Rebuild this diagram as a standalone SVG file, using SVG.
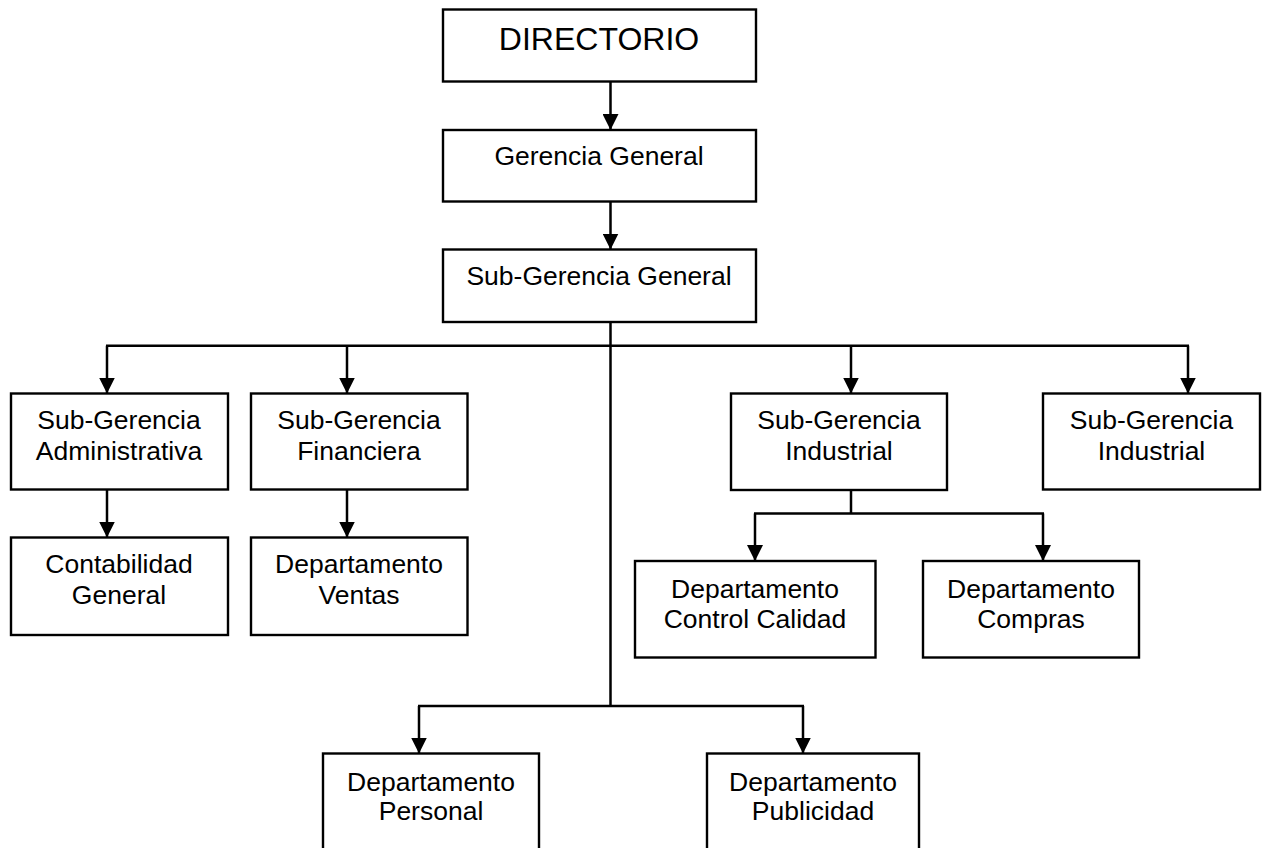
<svg xmlns="http://www.w3.org/2000/svg" width="1269" height="848" viewBox="0 0 1269 848">
<defs>
<marker id="arr" markerUnits="userSpaceOnUse" markerWidth="16" markerHeight="16" viewBox="0 0 16 16" refX="16" refY="8" orient="auto">
<path d="M0,0 L16,8 L0,16 z" fill="#000"/>
</marker>
<style>
.box{fill:#fff;stroke:#000;stroke-width:2.4}
.ln{fill:none;stroke:#000;stroke-width:2.5}
.ar{fill:none;stroke:#000;stroke-width:2.5;marker-end:url(#arr)}
text{font-family:"Liberation Sans",Arial,sans-serif;font-size:26.5px;fill:#000;text-anchor:middle}
.big{font-size:32px}
</style>
</defs>
<rect width="1269" height="848" fill="#fff"/>
<g id="connectors">
<line class="ar" x1="610.5" y1="82" x2="610.5" y2="130"/>
<line class="ar" x1="610.5" y1="201.5" x2="610.5" y2="249.5"/>
<line class="ln" x1="610.5" y1="322" x2="610.5" y2="706"/>
<line class="ln" x1="106" y1="345.7" x2="1189" y2="345.7"/>
<line class="ar" x1="107" y1="345.7" x2="107" y2="393.5"/>
<line class="ar" x1="347" y1="345.7" x2="347" y2="393.5"/>
<line class="ar" x1="851" y1="345.7" x2="851" y2="393.5"/>
<line class="ar" x1="1188" y1="345.7" x2="1188" y2="393.5"/>
<line class="ar" x1="107" y1="489.5" x2="107" y2="537.5"/>
<line class="ar" x1="347" y1="489.5" x2="347" y2="537.5"/>
<line class="ln" x1="851" y1="490" x2="851" y2="513.5"/>
<line class="ln" x1="754" y1="513.5" x2="1044" y2="513.5"/>
<line class="ar" x1="755" y1="513.5" x2="755" y2="561"/>
<line class="ar" x1="1043" y1="513.5" x2="1043" y2="561"/>
<line class="ln" x1="418" y1="706" x2="804" y2="706"/>
<line class="ar" x1="419" y1="706" x2="419" y2="753.5"/>
<line class="ar" x1="803" y1="706" x2="803" y2="753.5"/>
</g>
<g id="directorio">
<rect class="box" x="443" y="9.5" width="313" height="72"/>
<text class="big" x="599" y="50">DIRECTORIO</text>
</g>
<g id="gerencia-general">
<rect class="box" x="443" y="130" width="313" height="71.5"/>
<text x="599" y="165">Gerencia General</text>
</g>
<g id="sub-gerencia-general">
<rect class="box" x="443" y="249.5" width="313" height="72.5"/>
<text x="599" y="285">Sub-Gerencia General</text>
</g>
<g id="sub-gerencia-administrativa">
<rect class="box" x="11" y="393.5" width="217" height="96"/>
<text x="119" y="429">Sub-Gerencia</text>
<text x="119" y="459.5">Administrativa</text>
</g>
<g id="sub-gerencia-financiera">
<rect class="box" x="251" y="393.5" width="216.5" height="96"/>
<text x="359" y="429">Sub-Gerencia</text>
<text x="359" y="459.5">Financiera</text>
</g>
<g id="sub-gerencia-industrial-1">
<rect class="box" x="731" y="393.5" width="216" height="96.5"/>
<text x="839" y="429">Sub-Gerencia</text>
<text x="839" y="459.5">Industrial</text>
</g>
<g id="sub-gerencia-industrial-2">
<rect class="box" x="1043" y="393.5" width="217" height="96"/>
<text x="1151.5" y="429">Sub-Gerencia</text>
<text x="1151.5" y="459.5">Industrial</text>
</g>
<g id="contabilidad-general">
<rect class="box" x="11" y="537.5" width="217" height="97.5"/>
<text x="119" y="573">Contabilidad</text>
<text x="119" y="603.5">General</text>
</g>
<g id="departamento-ventas">
<rect class="box" x="251" y="537.5" width="216.5" height="97.5"/>
<text x="359" y="573">Departamento</text>
<text x="359" y="603.5">Ventas</text>
</g>
<g id="departamento-control-calidad">
<rect class="box" x="635" y="561" width="240.5" height="96.5"/>
<text x="755" y="598">Departamento</text>
<text x="755" y="627.5">Control Calidad</text>
</g>
<g id="departamento-compras">
<rect class="box" x="923" y="561" width="216" height="96.5"/>
<text x="1031" y="598">Departamento</text>
<text x="1031" y="627.5">Compras</text>
</g>
<g id="departamento-personal">
<rect class="box" x="323" y="753.5" width="216" height="110"/>
<text x="431" y="790.5">Departamento</text>
<text x="431" y="820">Personal</text>
</g>
<g id="departamento-publicidad">
<rect class="box" x="707" y="753.5" width="212" height="110"/>
<text x="813" y="790.5">Departamento</text>
<text x="813" y="820">Publicidad</text>
</g>
</svg>
